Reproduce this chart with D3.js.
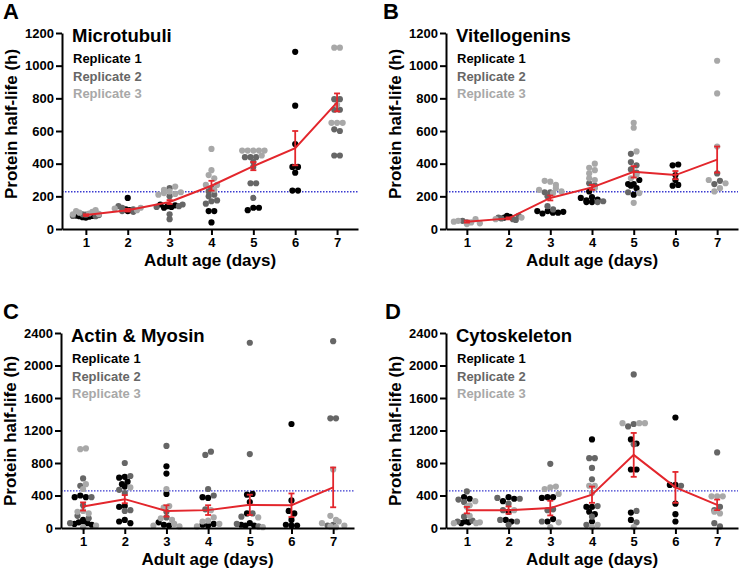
<!DOCTYPE html>
<html>
<head>
<meta charset="utf-8">
<script src="https://cdn.jsdelivr.net/npm/d3@7"></script>
<style>
  body { margin: 0; background: #fff; }
  svg text { font-family: "Liberation Sans", Arial, sans-serif; font-weight: bold; }
</style>
</head>
<body>
<svg id="chart" width="740" height="572"></svg>
<script>
const days = [1, 2, 3, 4, 5, 6, 7];
const repNames = ["Replicate 1", "Replicate 2", "Replicate 3"];
const repColors = ["#000000", "#666666", "#a8a8a8"];

// Microtubuli (one inner array per day)
const microR1 = [[70, 72, 75, 78, 80, 82], [190, 120, 115, 110], [140, 135, 130, 145, 150], [110, 110, 40], [130, 115, 130], [1085, 755, 520, 380, 380, 345, 235, 235], []];
const microR2 = [[78, 80, 85, 88, 90], [130, 120, 110, 105, 140], [250, 200, 60, 90, 140, 135, 150], [250, 170, 155, 200, 210, 175, 230], [440, 440, 380, 280, 280, 190, 440, 410], [], [795, 795, 730, 730, 610, 600, 450, 450]];
const microR3 = [[95, 100, 105, 110, 115, 90, 92], [115, 125, 130], [230, 240, 220, 260, 215, 210, 225], [490, 360, 330, 310, 270, 240, 270], [480, 480, 480, 480, 480, 450], [], [1110, 1110, 760, 650, 650, 650]];
const microMean = [85, 115, 165, 265, 385, 495, 775];
const microSem = [5, 8, 12, 30, 25, 105, 55];

// Vitellogenins
const vitR1 = [[], [80, 75, 70], [110, 100, 95, 100, 110, 105], [195, 165, 165, 175, 180, 230, 190], [275, 265, 275, 210, 250, 300], [300, 390, 395, 265, 270, 330], []];
const vitR2 = [[40, 50], [60, 65, 55, 70, 80], [225, 225, 200, 140, 120], [280, 170, 165, 265], [410, 460, 390, 365, 345, 225], [], [275, 295, 340]];
const vitR3 = [[30, 40, 50, 60, 45, 35], [60, 70], [290, 295, 270, 250, 240, 230, 220], [375, 340, 360, 400, 310, 300, 250], [650, 620, 475, 160, 220, 310, 330], [], [1030, 830, 505, 300, 230, 280, 250]];
const vitMean = [45, 65, 190, 255, 350, 330, 425];
const vitSem = [6, 6, 15, 15, 35, 25, 80];

// Actin & Myosin
const actR1 = [[400, 380, 380, 100, 80, 70, 60, 50, 40], [540, 630, 620, 510, 570, 270, 260, 100, 80, 60], [760, 670, 420, 40, 30, 70], [370, 380, 30, 40, 50], [410, 420, 320, 180, 60, 30, 30, 40], [1280, 340, 210, 180, 100, 30, 40, 30], []];
const actR2 = [[610, 520, 380, 280, 150, 120, 60], [800, 640, 470, 430, 220, 210], [1010, 200, 130], [900, 940, 480, 400, 230], [2280, 910, 180, 140, 20, 50], [], [2300, 1350, 1350, 40, 30]];
const actR3 = [[970, 980, 540, 480, 210, 200, 180, 30, 10], [500], [480, 250, 270, 120, 100, 50, 30, 20], [220, 90, 80, 20, 130, 50], [130, 10], [], [720, 150, 100, 80, 60, 30, 20, 10]];
const actMean = [265, 355, 210, 220, 285, 280, 500];
const actSem = [50, 50, 70, 60, 125, 145, 245];

// Cytoskeleton
const cytoR1 = [[380, 360, 80, 70, 60], [380, 330, 360, 100, 80, 200], [380, 380, 370, 80, 110], [1090, 260, 260, 200, 170, 80], [1090, 1040, 720, 720, 100, 190], [1360, 530, 530, 300, 170, 80], []];
const cytoR2 = [[450, 350, 320, 140, 90, 80], [370, 360, 300, 220, 100, 80, 40], [790, 220, 230, 80], [860, 860, 740, 600, 270, 140, 40], [1890, 1280, 1250, 1030, 210, 70], [520], [930, 220, 260, 60, 20]];
const cytoR3 = [[330, 280, 260, 150, 60, 60, 70], [220], [500, 480, 510, 420, 10, 70], [520, 520, 430, 40, 10], [1290, 1290, 1290, 10], [], [390, 390, 390, 200, 180]];
const cytoMean = [220, 220, 245, 410, 900, 500, 285];
const cytoSem = [40, 45, 90, 100, 270, 190, 65];

const yTicksSmall = [0, 200, 400, 600, 800, 1000, 1200];
const yTicksLarge = [0, 400, 800, 1200, 1600, 2000, 2400];
const thresholdSmall = 228;
const thresholdLarge = 458;

const svg = d3.select("#chart");
const red = "#e3262c";
const dotR = 3.1, gap = 5.6, maxHalf = 13;

// Prism-like scatter: dots that sit within one dot height are put in a row,
// filled from the centre outwards and squeezed if the row gets crowded
function spread(ys) {
  const order = d3.range(ys.length).sort((a, b) => ys[a] - ys[b]);
  const rows = [];
  order.forEach(i => {
    const row = rows[rows.length - 1];
    if (row && ys[i] - ys[row[0]] < gap * 0.8) row.push(i);
    else rows.push([i]);
  });
  const offs = new Array(ys.length).fill(0);
  rows.forEach(row => {
    const n = row.length;
    const step = n > 1 ? Math.min(gap, 2 * maxHalf / (n - 1)) : 0;
    const slots = d3.range(n).map(k => (k - (n - 1) / 2) * step)
      .sort((a, b) => Math.abs(a) - Math.abs(b) || a - b);
    row.slice().sort((a, b) => a - b).forEach((i, k) => offs[i] = slots[k]);
  });
  return offs;
}

function drawPanel(cfg) {
  const g = svg.append("g");
  const x = d3.scaleLinear().domain([cfg.x0, 7.5]).range([cfg.left, cfg.right]);
  const y = d3.scaleLinear().domain([0, cfg.yTicks[cfg.yTicks.length - 1]]).range([cfg.bottom, cfg.top]);

  // threshold line
  g.append("line")
    .attr("x1", cfg.left).attr("x2", cfg.right)
    .attr("y1", y(cfg.threshold)).attr("y2", y(cfg.threshold))
    .attr("stroke", "#3a3ad0").attr("stroke-width", 1.3)
    .attr("stroke-dasharray", "1.5,1.5");

  // dots
  days.forEach((d, i) => {
    const pts = [];
    cfg.reps.forEach((rep, r) => rep[i].forEach(v => pts.push({ v, r })));
    const offs = spread(pts.map(p => y(p.v)));
    pts.forEach((p, k) => p.dx = offs[k]);
    g.selectAll(null)
      .data(pts)
      .enter().append("circle")
      .attr("cx", p => x(d) + p.dx)
      .attr("cy", p => y(p.v))
      .attr("r", dotR)
      .attr("fill", p => repColors[p.r]);
  });

  // mean line and SEM bars
  g.append("path")
    .datum(days)
    .attr("fill", "none")
    .attr("stroke", red)
    .attr("stroke-width", 2)
    .attr("d", d3.line().x(d => x(d)).y((d, i) => y(cfg.mean[i])));

  days.forEach((d, i) => {
    const lo = y(cfg.mean[i] - cfg.sem[i]), hi = y(cfg.mean[i] + cfg.sem[i]);
    g.append("line").attr("x1", x(d)).attr("x2", x(d)).attr("y1", lo).attr("y2", hi)
      .attr("stroke", red).attr("stroke-width", 1.8);
    [lo, hi].forEach(yy => g.append("line")
      .attr("x1", x(d) - 3).attr("x2", x(d) + 3).attr("y1", yy).attr("y2", yy)
      .attr("stroke", red).attr("stroke-width", 1.8));
  });

  // axes
  const yAxis = g.append("g")
    .attr("transform", "translate(" + cfg.left + ",0)")
    .call(d3.axisLeft(y).tickValues(cfg.yTicks).tickSize(6).tickSizeOuter(0).tickPadding(2).tickFormat(d3.format("d")));
  const xAxis = g.append("g")
    .attr("transform", "translate(0," + cfg.bottom + ")")
    .call(d3.axisBottom(x).tickValues(days).tickSize(6).tickSizeOuter(0).tickPadding(3).tickFormat(d3.format("d")));
  [yAxis, xAxis].forEach(ax => {
    ax.select(".domain").attr("stroke", "#000").attr("stroke-width", 2);
    ax.selectAll(".tick line").attr("stroke", "#000").attr("stroke-width", 2);
    ax.selectAll(".tick text").attr("fill", "#000").style("font-size", "13px");
  });

  // axis titles
  g.append("text")
    .attr("transform", "translate(" + (cfg.left - 45) + "," + cfg.yTitleY + ") rotate(-90)")
    .attr("text-anchor", "middle").style("font-size", "17px")
    .text("Protein half-life (h)");
  g.append("text")
    .attr("x", (cfg.left + cfg.right) / 2).attr("y", cfg.bottom + 37)
    .attr("text-anchor", "middle").style("font-size", "17px")
    .text("Adult age (days)");

  // panel letter, title, legend
  g.append("text").attr("x", cfg.letterX).attr("y", cfg.top - 14)
    .style("font-size", "22px").text(cfg.letter);
  g.append("text").attr("x", cfg.left + 10).attr("y", cfg.top + 9)
    .style("font-size", "18.5px").text(cfg.title);
  repNames.forEach((n, r) => g.append("text")
    .attr("x", cfg.left + 11).attr("y", cfg.top + 30 + r * 17.5)
    .attr("fill", repColors[r]).style("font-size", "13px").text(n));
}

drawPanel({ letter: "A", letterX: 3, title: "Microtubuli", left: 62, right: 358, x0: 0.43, top: 33, bottom: 229, yTitleY: 124,
  yTicks: yTicksSmall, threshold: thresholdSmall, reps: [microR1, microR2, microR3], mean: microMean, sem: microSem });
drawPanel({ letter: "B", letterX: 383, title: "Vitellogenins", left: 446, right: 738, x0: 0.5, top: 33, bottom: 229, yTitleY: 124,
  yTicks: yTicksSmall, threshold: thresholdSmall, reps: [vitR1, vitR2, vitR3], mean: vitMean, sem: vitSem });
drawPanel({ letter: "C", letterX: 3, title: "Actin & Myosin", left: 61, right: 354, x0: 0.47, top: 333, bottom: 528, yTitleY: 431,
  yTicks: yTicksLarge, threshold: thresholdLarge, reps: [actR1, actR2, actR3], mean: actMean, sem: actSem });
drawPanel({ letter: "D", letterX: 385, title: "Cytoskeleton", left: 446, right: 738, x0: 0.5, top: 333, bottom: 528, yTitleY: 431,
  yTicks: yTicksLarge, threshold: thresholdLarge, reps: [cytoR1, cytoR2, cytoR3], mean: cytoMean, sem: cytoSem });
</script>
</body>
</html>
